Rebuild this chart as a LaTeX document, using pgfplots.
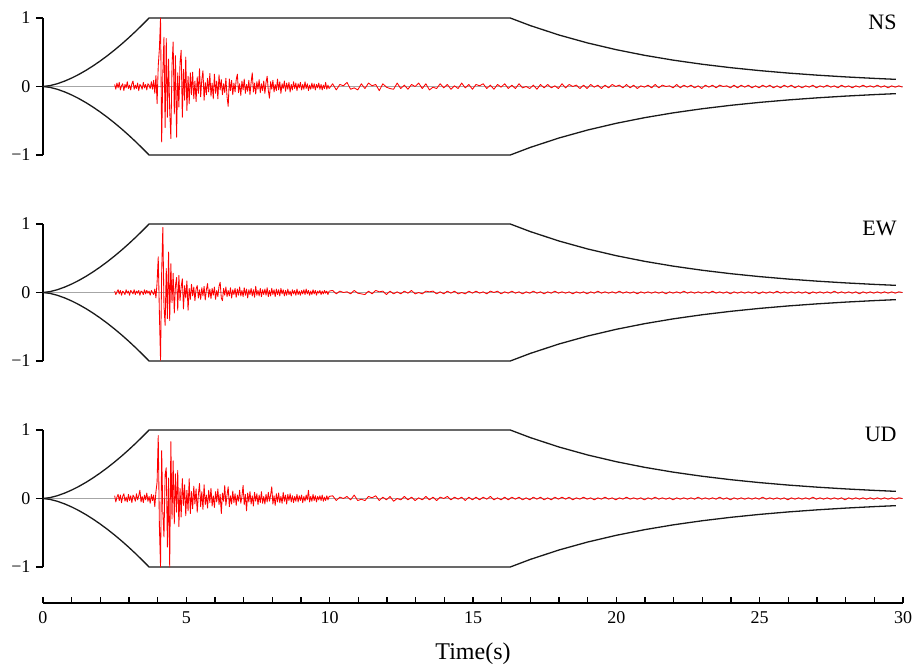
\documentclass[border=0pt]{standalone}
\usepackage{fontspec}
\setmainfont{Liberation Serif}
\usepackage{pgfplots}
\usepackage{pgfplotstable}
\pgfplotsset{compat=1.18}

% envelope (upper branch)
\pgfplotstableread{
t up
0 0
0.25 0.0134
0.5 0.0407
0.75 0.0778
1 0.1233
1.25 0.1762
1.5 0.2358
1.75 0.3018
2 0.3737
2.25 0.4512
2.5 0.5341
2.75 0.6219
3 0.7149
3.25 0.8126
3.5 0.9148
3.7 1
16.3 1
17 0.889
18 0.7516
19 0.6354
20 0.5371
21 0.4540
22 0.3838
23 0.3245
24 0.2743
25 0.2319
26 0.1960
27 0.1657
28 0.1401
29 0.1184
29.75 0.1044
}\envtab

% NS, t = 2.50 + 0.04 i
\pgfplotstableread[header=false,row sep=\\]{
0.03\\ -0.04\\ 0.05\\ -0.02\\ 0.06\\ -0.05\\ 0.01\\ 0.04\\ -0.06\\ 0.03\\
-0.02\\ 0.07\\ -0.03\\ 0.02\\ -0.05\\ 0.04\\ 0.08\\ -0.04\\ 0.02\\ -0.03\\
0.05\\ -0.06\\ 0.03\\ 0.01\\ -0.04\\ 0.06\\ -0.02\\ 0.03\\ -0.05\\ 0.04\\
0.02\\ -0.03\\ 0.07\\ -0.04\\ 0.09\\
-0.10\\ 0.16\\ -0.25\\ 0.30\\ 0.55\\
1.00\\ -0.81\\ 0.20\\ 0.72\\ -0.60\\ 0.70\\ -0.45\\ 0.40\\ -0.35\\ -0.76\\
0.30\\ 0.65\\ -0.40\\ 0.45\\ -0.74\\ 0.20\\ -0.30\\ 0.35\\ 0.53\\ -0.45\\
0.25\\ -0.20\\ 0.43\\ -0.35\\ 0.15\\ -0.25\\ 0.20\\ -0.12\\ 0.21\\ -0.18\\
0.08\\ -0.22\\ 0.14\\ -0.10\\ 0.26\\ -0.15\\ 0.10\\ 0.23\\ -0.20\\ 0.06\\
-0.12\\ 0.12\\ -0.08\\ 0.19\\ -0.14\\ 0.05\\ -0.18\\ 0.18\\ -0.10\\ 0.08\\
-0.18\\ 0.17\\ -0.05\\ 0.10\\ -0.12\\ 0.04\\ -0.09\\ 0.12\\ -0.15\\ -0.29\\
0.11\\ -0.06\\ 0.09\\ -0.12\\ 0.05\\ -0.08\\ 0.10\\ 0.18\\ -0.09\\ 0.04\\
-0.13\\ 0.08\\ -0.05\\ 0.11\\ -0.10\\ 0.03\\ -0.07\\ 0.09\\ -0.12\\ 0.06\\
0.20\\ -0.08\\ 0.05\\ -0.11\\ 0.07\\ -0.04\\ 0.10\\ -0.09\\ 0.04\\ -0.06\\
0.08\\ -0.10\\ 0.06\\ 0.15\\ -0.06\\ -0.17\\ 0.07\\ -0.04\\ 0.09\\ -0.08\\
0.03\\ -0.06\\ 0.11\\ -0.05\\ 0.07\\ -0.10\\ 0.04\\ -0.03\\ 0.08\\ -0.07\\
0.05\\ -0.04\\ 0.06\\ -0.08\\ 0.03\\ -0.05\\ 0.07\\ -0.03\\ 0.05\\ -0.06\\
0.04\\ -0.02\\ 0.06\\ -0.05\\ 0.03\\ -0.04\\ 0.07\\ -0.03\\ 0.04\\ -0.06\\
0.02\\ -0.04\\ 0.05\\ -0.03\\ 0.04\\ -0.05\\ 0.03\\ -0.02\\ 0.05\\ -0.04\\
0.03\\ -0.05\\ 0.02\\ -0.03\\ 0.06\\ -0.04\\ 0.02\\ -0.03\\
}\nsA
% NS tail, t = 9.98 + 0.125 k
\pgfplotstableread[header=false,row sep=\\]{
-0.03\\
0.04\\ -0.05\\ 0.03\\ 0.01\\ 0.06\\ -0.04\\ -0.02\\ -0.05\\ 0.04\\ -0.03\\
0.05\\ 0.01\\ 0.03\\ -0.06\\ 0.04\\ -0.01\\ -0.03\\ -0.04\\ 0.05\\ -0.03\\
0.02\\ -0.04\\ 0.03\\ 0.00\\ 0.05\\ -0.03\\ 0.04\\ -0.05\\ -0.01\\ -0.03\\
0.04\\ -0.02\\ 0.03\\ -0.04\\ 0.01\\ -0.03\\ 0.05\\ -0.02\\ 0.03\\ -0.04\\
0.03\\ 0.01\\ 0.04\\ -0.03\\ 0.02\\ -0.04\\ 0.03\\ -0.01\\ 0.04\\ -0.03\\
0.02\\ -0.03\\ 0.04\\ -0.02\\ 0.00\\ -0.03\\ 0.02\\ -0.04\\ 0.03\\ -0.02\\
0.03\\ -0.02\\ 0.01\\ -0.03\\ 0.04\\ -0.02\\ 0.03\\ 0.00\\ 0.02\\ -0.03\\
0.02\\ -0.03\\ 0.03\\ -0.01\\ 0.02\\ -0.03\\ 0.02\\ -0.02\\ 0.03\\ 0.00\\
0.02\\ -0.02\\ 0.03\\ -0.02\\ 0.02\\ -0.03\\ 0.01\\ -0.01\\ 0.02\\ -0.02\\
0.03\\ -0.02\\ 0.02\\ 0.00\\ 0.01\\ -0.02\\ 0.03\\ -0.02\\ 0.02\\ -0.01\\
0.02\\ -0.02\\ 0.01\\ -0.03\\ 0.02\\ -0.01\\ 0.02\\ -0.02\\ 0.02\\ 0.00\\
0.01\\ -0.02\\ 0.02\\ -0.02\\ 0.02\\ -0.01\\ 0.02\\ -0.02\\ 0.01\\ -0.02\\
0.02\\ -0.01\\ 0.02\\ -0.02\\ 0.01\\ -0.02\\ 0.02\\ -0.01\\ 0.02\\ -0.02\\
0.01\\ -0.02\\ 0.01\\ -0.01\\ 0.02\\ -0.02\\ 0.01\\ -0.01\\ 0.02\\ -0.01\\
0.01\\ -0.02\\ 0.02\\ -0.01\\ 0.01\\ -0.02\\ 0.01\\ -0.01\\ 0.02\\ -0.01\\
0.01\\ -0.01\\ 0.02\\ -0.01\\ 0.01\\ -0.02\\ 0.01\\ -0.01\\ 0.01\\ -0.01\\
}\nsB

% EW
\pgfplotstableread[header=false,row sep=\\]{
0.02\\ -0.03\\ 0.01\\ 0.04\\ -0.02\\ 0.03\\ -0.04\\ 0.02\\ 0.00\\ -0.03\\
0.04\\ -0.01\\ 0.02\\ -0.04\\ 0.03\\ 0.01\\ -0.02\\ 0.04\\ -0.03\\ 0.02\\
-0.01\\ 0.03\\ -0.04\\ 0.02\\ 0.01\\ -0.03\\ 0.04\\ -0.02\\ 0.03\\ -0.01\\
0.02\\ -0.04\\ 0.03\\ 0.00\\ -0.03\\
0.05\\ -0.08\\ 0.15\\ 0.52\\ -0.30\\
-0.99\\ 0.30\\ 0.95\\ -0.20\\ -0.48\\ 0.35\\ -0.38\\ 0.59\\ -0.41\\ 0.42\\
-0.15\\ 0.28\\ -0.30\\ 0.10\\ 0.22\\ -0.26\\ 0.25\\ -0.12\\ 0.08\\ 0.20\\
-0.24\\ 0.10\\ -0.08\\ 0.17\\ -0.26\\ 0.06\\ -0.10\\ 0.12\\ -0.05\\ 0.08\\
-0.12\\ 0.05\\ 0.10\\ -0.08\\ 0.04\\ -0.10\\ 0.07\\ -0.05\\ 0.09\\ -0.11\\
0.04\\ 0.13\\ -0.07\\ 0.05\\ -0.09\\ 0.06\\ -0.04\\ 0.08\\ -0.10\\ 0.03\\
-0.06\\ 0.09\\ 0.15\\ -0.08\\ -0.12\\ 0.06\\ -0.04\\ 0.08\\ -0.06\\ 0.03\\
-0.05\\ 0.07\\ -0.08\\ 0.04\\ -0.03\\ 0.06\\ -0.07\\ 0.05\\ -0.04\\ 0.08\\
-0.05\\ 0.03\\ -0.06\\ 0.07\\ -0.04\\ 0.05\\ -0.08\\ 0.04\\ -0.03\\ 0.06\\
-0.05\\ 0.04\\ -0.07\\ 0.09\\ -0.04\\ 0.03\\ -0.05\\ 0.06\\ -0.06\\ 0.04\\
-0.03\\ 0.05\\ -0.04\\ 0.07\\ -0.06\\ 0.03\\ -0.05\\ 0.06\\ -0.03\\ 0.04\\
-0.06\\ 0.05\\ -0.03\\ 0.04\\ -0.05\\ 0.06\\ -0.02\\ 0.04\\ -0.05\\ 0.03\\
-0.04\\ 0.05\\ -0.03\\ 0.02\\ -0.05\\ 0.04\\ -0.02\\ 0.03\\ -0.04\\ 0.05\\
-0.03\\ 0.02\\ -0.04\\ 0.03\\ -0.02\\ 0.04\\ -0.03\\ 0.05\\ -0.02\\ 0.03\\
-0.04\\ 0.02\\ -0.03\\ 0.04\\ -0.02\\ 0.03\\ -0.04\\ 0.02\\ -0.01\\ 0.03\\
-0.03\\ 0.02\\ -0.02\\ 0.03\\ -0.01\\ 0.02\\ -0.03\\ 0.02\\
}\ewA
\pgfplotstableread[header=false,row sep=\\]{
0.02\\
0.03\\ -0.02\\ 0.02\\ 0.00\\ 0.01\\ -0.02\\ 0.03\\ -0.01\\ -0.02\\ -0.03\\
0.02\\ -0.02\\ 0.03\\ 0.01\\ 0.02\\ -0.03\\ 0.02\\ -0.02\\ 0.01\\ -0.02\\
0.02\\ -0.01\\ 0.03\\ -0.02\\ 0.00\\ -0.02\\ 0.02\\ 0.01\\ 0.02\\ -0.02\\
0.01\\ -0.02\\ 0.02\\ -0.01\\ 0.02\\ -0.02\\ 0.00\\ -0.02\\ 0.02\\ -0.01\\
0.02\\ -0.01\\ 0.01\\ -0.02\\ 0.02\\ 0.00\\ 0.02\\ -0.02\\ 0.01\\ -0.01\\
0.02\\ -0.01\\ 0.01\\ -0.02\\ 0.01\\ -0.01\\ 0.02\\ -0.01\\ 0.01\\ -0.02\\
0.01\\ -0.01\\ 0.02\\ -0.01\\ 0.01\\ -0.01\\ 0.01\\ -0.02\\ 0.01\\ -0.01\\
0.01\\ -0.02\\ 0.01\\ -0.01\\ 0.02\\ -0.01\\ 0.01\\ -0.01\\ 0.01\\ -0.01\\
0.02\\ -0.01\\ 0.01\\ -0.01\\ 0.01\\ -0.02\\ 0.01\\ -0.01\\ 0.01\\ -0.01\\
0.01\\ -0.01\\ 0.01\\ -0.02\\ 0.01\\ -0.01\\ 0.01\\ -0.01\\ 0.02\\ -0.01\\
0.01\\ -0.01\\ 0.01\\ -0.01\\ 0.01\\ -0.01\\ 0.02\\ -0.01\\ 0.01\\ -0.01\\
0.01\\ -0.02\\ 0.01\\ -0.01\\ 0.01\\ -0.01\\ 0.01\\ -0.01\\ 0.01\\ -0.02\\
0.01\\ -0.01\\ 0.01\\ -0.01\\ 0.02\\ -0.01\\ 0.01\\ -0.01\\ 0.01\\ -0.01\\
0.01\\ -0.01\\ 0.01\\ -0.02\\ 0.01\\ -0.01\\ 0.01\\ -0.01\\ 0.01\\ -0.01\\
0.02\\ -0.01\\ 0.01\\ -0.01\\ 0.01\\ -0.01\\ 0.01\\ -0.02\\ 0.01\\ -0.01\\
0.01\\ -0.01\\ 0.01\\ -0.01\\ 0.01\\ -0.01\\ 0.01\\ -0.01\\ 0.01\\ 0.00\\
}\ewB

% UD
\pgfplotstableread[header=false,row sep=\\]{
0.04\\ -0.05\\ 0.02\\ 0.06\\ -0.03\\ 0.05\\ -0.06\\ 0.03\\ 0.07\\ -0.04\\
0.02\\ -0.05\\ 0.06\\ -0.03\\ 0.04\\ -0.06\\ 0.05\\ 0.02\\ -0.04\\ 0.07\\
-0.02\\ 0.04\\ 0.12\\ -0.05\\ 0.03\\ -0.06\\ 0.05\\ -0.02\\ 0.08\\ -0.04\\
0.03\\ -0.07\\ 0.06\\ -0.03\\ 0.05\\
-0.12\\ 0.10\\ 0.24\\ 0.92\\ -0.40\\
-1.00\\ 0.70\\ -0.20\\ -0.56\\ 0.35\\ 0.45\\ -0.71\\ 0.30\\ -1.00\\ 0.83\\
-0.30\\ 0.55\\ -0.37\\ 0.36\\ -0.20\\ 0.41\\ -0.41\\ 0.15\\ -0.27\\ 0.29\\
-0.10\\ 0.20\\ -0.25\\ 0.12\\ -0.18\\ 0.29\\ -0.22\\ 0.10\\ -0.15\\ 0.18\\
-0.08\\ 0.14\\ -0.20\\ 0.06\\ 0.22\\ -0.12\\ 0.10\\ -0.16\\ 0.20\\ -0.09\\
0.05\\ -0.14\\ 0.12\\ -0.06\\ 0.15\\ -0.11\\ 0.04\\ -0.13\\ 0.10\\ -0.05\\
0.14\\ -0.09\\ 0.06\\ -0.22\\ 0.08\\ -0.04\\ 0.19\\ -0.10\\ 0.05\\ 0.17\\
-0.12\\ 0.04\\ -0.08\\ 0.11\\ -0.06\\ 0.07\\ -0.10\\ 0.05\\ -0.04\\ 0.12\\
-0.07\\ 0.03\\ 0.19\\ -0.09\\ 0.06\\ -0.18\\ 0.08\\ -0.05\\ 0.10\\ -0.08\\
0.04\\ -0.11\\ 0.09\\ -0.04\\ 0.07\\ -0.09\\ 0.05\\ -0.06\\ 0.10\\ -0.07\\
0.03\\ -0.08\\ 0.06\\ -0.05\\ 0.09\\ -0.04\\ 0.05\\ 0.17\\ -0.08\\ 0.04\\
-0.10\\ 0.07\\ -0.05\\ 0.08\\ -0.06\\ 0.03\\ -0.07\\ 0.09\\ -0.04\\ 0.05\\
-0.08\\ 0.06\\ -0.03\\ 0.07\\ -0.05\\ 0.04\\ -0.06\\ 0.03\\ -0.04\\ 0.06\\
-0.05\\ 0.04\\ -0.03\\ 0.05\\ -0.06\\ 0.03\\ -0.04\\ 0.05\\ -0.02\\ 0.12\\
-0.05\\ 0.03\\ -0.04\\ 0.06\\ -0.03\\ 0.04\\ -0.05\\ 0.03\\ -0.02\\ 0.04\\
-0.03\\ 0.05\\ -0.04\\ 0.02\\ -0.03\\ 0.04\\ -0.02\\ 0.03\\
}\udA
\pgfplotstableread[header=false,row sep=\\]{
0.03\\
0.04\\ -0.03\\ 0.02\\ 0.00\\ 0.03\\ -0.02\\ 0.05\\ -0.03\\ -0.01\\ -0.03\\
0.03\\ 0.01\\ 0.04\\ -0.03\\ 0.02\\ -0.02\\ 0.03\\ -0.04\\ 0.00\\ -0.02\\
0.03\\ -0.02\\ 0.02\\ -0.03\\ 0.01\\ -0.02\\ 0.03\\ -0.02\\ 0.02\\ -0.03\\
0.02\\ 0.00\\ 0.03\\ -0.02\\ 0.02\\ -0.01\\ 0.02\\ -0.03\\ 0.02\\ -0.02\\
0.02\\ -0.02\\ 0.02\\ -0.01\\ 0.03\\ -0.02\\ 0.01\\ -0.02\\ 0.02\\ -0.02\\
0.02\\ -0.01\\ 0.02\\ -0.02\\ 0.01\\ -0.02\\ 0.02\\ -0.01\\ 0.02\\ -0.02\\
0.01\\ -0.02\\ 0.02\\ -0.01\\ 0.02\\ -0.01\\ 0.02\\ -0.02\\ 0.01\\ -0.01\\
0.02\\ -0.01\\ 0.01\\ -0.02\\ 0.01\\ -0.01\\ 0.02\\ -0.01\\ 0.01\\ -0.02\\
0.01\\ -0.01\\ 0.02\\ -0.01\\ 0.01\\ -0.01\\ 0.01\\ -0.02\\ 0.01\\ -0.01\\
0.02\\ -0.01\\ 0.01\\ -0.01\\ 0.01\\ -0.02\\ 0.01\\ -0.01\\ 0.01\\ -0.01\\
0.01\\ -0.01\\ 0.02\\ -0.01\\ 0.01\\ -0.01\\ 0.01\\ -0.01\\ 0.02\\ -0.01\\
0.01\\ -0.02\\ 0.01\\ -0.01\\ 0.01\\ -0.01\\ 0.01\\ -0.01\\ 0.01\\ -0.01\\
0.02\\ -0.01\\ 0.01\\ -0.01\\ 0.01\\ -0.01\\ 0.01\\ -0.02\\ 0.01\\ -0.01\\
0.01\\ -0.01\\ 0.01\\ -0.01\\ 0.02\\ -0.01\\ 0.01\\ -0.01\\ 0.01\\ -0.01\\
0.01\\ -0.01\\ 0.01\\ -0.02\\ 0.01\\ -0.01\\ 0.01\\ -0.01\\ 0.01\\ -0.01\\
0.01\\ -0.01\\ 0.01\\ -0.01\\ 0.01\\ -0.01\\ 0.01\\ -0.01\\ 0.01\\ 0.00\\
}\udB

\pgfplotsset{
  panel/.style={
    width=860pt, height=137pt, scale only axis,
    xmin=0, xmax=30, ymin=-1, ymax=1,
    axis x line=none, axis y line=left,
    axis line style={-, line width=1.2pt, black},
    ytick={-1,0,1}, yticklabels={−1,0,1},
    tick align=outside, major tick length=7pt,
    major tick style={line width=1.2pt, black},
    yticklabel style={font=\fontsize{18}{21}\selectfont},
    yticklabel shift=2pt,
    clip=false,
  },
  trace/.style={red, line width=0.85pt, line join=round},
  env/.style={black!90, line width=1.3pt},
  zero/.style={gray!70, line width=0.5pt},
}

\begin{document}
\begin{tikzpicture}
\path[use as bounding box] (-43pt,-98pt) rectangle (871pt,567pt);

% NS
\begin{axis}[panel, at={(0pt,412pt)}]
\addplot[zero] coordinates {(0,0) (30,0)};
\addplot[env] table[x=t, y=up] {\envtab};
\addplot[env] table[x=t, y expr=-\thisrow{up}] {\envtab};
\addplot[trace] table[x expr={2.5+0.04*\coordindex}, y index=0] {\nsA};
\addplot[trace] table[x expr={9.98+0.125*\coordindex}, y index=0] {\nsB};
\node[anchor=east, font=\fontsize{22}{26}\selectfont] at (axis cs:29.9,0.93) {NS};
\end{axis}

% EW
\begin{axis}[panel, at={(0pt,206pt)}]
\addplot[zero] coordinates {(0,0) (30,0)};
\addplot[env] table[x=t, y=up] {\envtab};
\addplot[env] table[x=t, y expr=-\thisrow{up}] {\envtab};
\addplot[trace] table[x expr={2.5+0.04*\coordindex}, y index=0] {\ewA};
\addplot[trace] table[x expr={9.98+0.125*\coordindex}, y index=0] {\ewB};
\node[anchor=east, font=\fontsize{22}{26}\selectfont] at (axis cs:29.9,0.93) {EW};
\end{axis}

% UD
\begin{axis}[panel, at={(0pt,0pt)}]
\addplot[zero] coordinates {(0,0) (30,0)};
\addplot[env] table[x=t, y=up] {\envtab};
\addplot[env] table[x=t, y expr=-\thisrow{up}] {\envtab};
\addplot[trace] table[x expr={2.5+0.04*\coordindex}, y index=0] {\udA};
\addplot[trace] table[x expr={9.98+0.125*\coordindex}, y index=0] {\udB};
\node[anchor=east, font=\fontsize{22}{26}\selectfont] at (axis cs:29.9,0.93) {UD};
\end{axis}

% time axis
\begin{axis}[at={(0pt,-36pt)}, width=860pt, height=10pt, scale only axis,
  xmin=0, xmax=30, ymin=0, ymax=1,
  axis x line=bottom, axis y line=none,
  axis line style={-, line width=1.2pt, black},
  xtick={0,5,...,30}, minor x tick num=4,
  tick align=inside, major tick length=6pt, minor tick length=6pt,
  every tick/.style={line width=1.1pt, black},
  /pgf/number format/assume math mode=true,
  xticklabel style={font=\fontsize{18}{21}\selectfont},
  xticklabel shift=5pt,
  xlabel={Time(s)},
  xlabel style={font=\fontsize{24}{27}\selectfont, at={(axis description cs:0.5,0)}, anchor=center, yshift=-51pt},
  clip=false]
\addplot[draw=none] coordinates {(0,0)};
\end{axis}
\end{tikzpicture}
\end{document}
